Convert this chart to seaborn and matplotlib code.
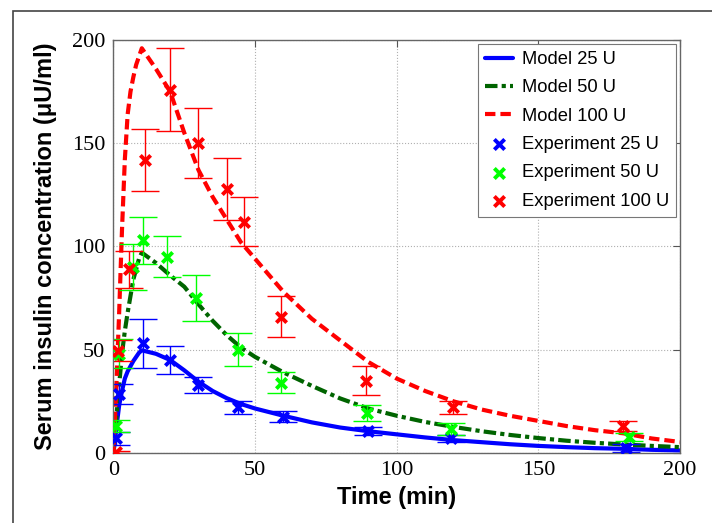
import seaborn as sns
import matplotlib.pyplot as plt
from matplotlib.patches import Rectangle

# model curves
t_model = [0, 1, 2, 3, 4, 5, 6, 7, 8, 9, 10, 15, 20, 25, 30, 35, 40, 45, 50,
           60, 70, 80, 90, 100, 110, 120, 130, 140, 150, 160, 170, 180, 190, 200]
model_25 = [0, 12, 23, 30, 36, 39.5, 42, 44.5, 46.5, 48.5, 49.7, 48, 45, 40, 34.5,
            30, 26.5, 23.7, 21.5, 18, 14.8, 12.3, 10.5, 9, 7.5, 6.2, 5.2, 4.2,
            3.4, 2.8, 2.3, 2, 1.5, 1.2]
model_50 = [0, 17, 33, 48, 59, 68, 76, 84, 89, 94, 97, 92, 86, 80.5, 72, 64,
            57, 51, 46.5, 39, 32.5, 26.4, 21.5, 18, 15, 12.6, 10.5, 8.7, 7.2,
            5.9, 4.9, 4.1, 3.4, 2.8]
model_100 = [0, 32, 68, 108, 142, 164, 175, 182, 188, 192, 196, 186, 175, 155,
             137, 124, 113, 102, 94, 78, 65, 54.5, 44, 36, 30, 25, 21, 18, 15.5,
             13, 11, 9.5, 7, 5.3]

# experimental means and errors
t_25 = [1, 2, 10.5, 20, 30, 44, 60, 90, 119, 181]
exp_25 = [7, 28.5, 53, 45, 33, 22, 17.5, 10.7, 7, 2.5]
err_25 = [3.2, 5, 12, 7, 4, 3, 2.7, 2, 1.5, 2]

t_50 = [1, 2, 7, 10.5, 19, 29, 44, 59, 89.5, 119, 182]
exp_50 = [13, 48, 90, 103, 95, 75, 50, 34, 19.4, 11.6, 7.8]
err_50 = [3, 7, 11, 11.5, 10, 11, 8, 5, 4, 3, 2]

t_100 = [1, 1.5, 5.5, 11, 20, 30, 40, 46, 59, 89, 120, 180]
exp_100 = [0.5, 49.5, 89, 142, 176, 150, 128, 112, 66, 35, 22, 13]
err_100 = [0.5, 5, 9, 15, 20, 17, 15, 12, 10, 7, 3, 2.5]

sns.set_style("white")
plt.rcParams["text.color"] = "black"
plt.rcParams["xtick.color"] = "black"
plt.rcParams["ytick.color"] = "black"
plt.rcParams["axes.labelcolor"] = "black"

fig = plt.figure(figsize=(7.12, 5.23), dpi=100)
ax = fig.add_axes([0.1594, 0.134, 0.7957, 0.7895])

sns.lineplot(x=t_model, y=model_25, ax=ax, color="#0000ff", lw=3, label="Model 25 U")
sns.lineplot(x=t_model, y=model_50, ax=ax, color="#006400", lw=3,
             linestyle=(0, (3, 1, 1, 1)), label="Model 50 U")
sns.lineplot(x=t_model, y=model_100, ax=ax, color="#ff0000", lw=3,
             linestyle=(0, (2.5, 1.2)), label="Model 100 U")

for t, m, e, c, lab in [(t_25, exp_25, err_25, "#0000ff", "Experiment 25 U"),
                        (t_50, exp_50, err_50, "#00ff00", "Experiment 50 U"),
                        (t_100, exp_100, err_100, "#ff0000", "Experiment 100 U")]:
    ax.errorbar(t, m, yerr=e, fmt="none", ecolor=c, elinewidth=1, capsize=10,
                capthick=1, zorder=2)
    sns.scatterplot(x=t, y=m, ax=ax, color=c, marker="x", s=55, linewidth=2.8,
                    label=lab, zorder=3)

ax.set_xlim(0, 200)
ax.set_ylim(0, 200)
ax.set_xticks([0, 50, 100, 150, 200])
ax.set_yticks([0, 50, 100, 150, 200])
ax.grid(True, linestyle=":", color="#b0b0b0", lw=0.8)
ax.tick_params(direction="in", length=5, top=True, right=True, pad=6,
               color="#555555", labelcolor="black", labelsize=16)
for lbl in ax.get_xticklabels() + ax.get_yticklabels():
    lbl.set_family("Liberation Serif")
for s in ax.spines.values():
    s.set_color("#666666")
    s.set_linewidth(1)

ax.set_xlabel("Time (min)", fontsize=17, fontweight="bold",
              family="Liberation Sans", color="black")
ax.set_ylabel("Serum insulin concentration (\u03bcU/ml)", fontsize=17,
              fontweight="bold", family="Liberation Sans", color="black")
ax.xaxis.set_label_coords(0.5, -0.08)
ax.yaxis.set_label_coords(-0.1, 0.5)

leg = ax.legend(loc="upper right", frameon=True, fancybox=False,
                edgecolor="#777777", framealpha=1, borderaxespad=0.2,
                handlelength=1.5, handletextpad=0.5, labelspacing=0.62,
                borderpad=0.4, prop={"family": "Liberation Sans", "size": 13.2})
leg.get_frame().set_linewidth(0.8)
for txt in leg.get_texts():
    txt.set_color("black")

fig.patches.append(Rectangle((12.7 / 712, -0.5), 2, 0.5 + 1 - 11 / 523,
                             transform=fig.transFigure, fill=False,
                             edgecolor="#444444", lw=1.2))

fig.savefig("out.png", dpi=100)
